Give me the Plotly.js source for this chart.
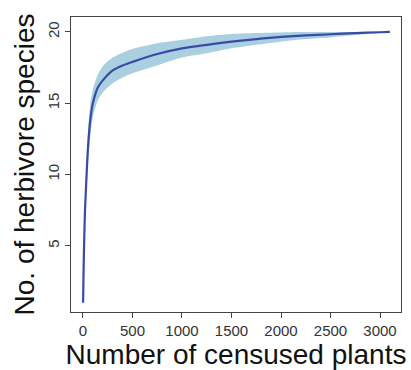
<!DOCTYPE html>
<html>
<head>
<meta charset="utf-8">
<script src="https://cdn.plot.ly/plotly-3.0.1.min.js"></script>
<style>html,body{margin:0;padding:0;background:#fff;}#chart{width:411px;height:370px;}</style>
</head>
<body>
<div id="chart"></div>
<script>
const plants = [1, 5, 10, 20, 30, 50, 75, 100, 150, 200, 300, 400, 500, 750, 1000, 1250, 1500, 1750, 2000, 2250, 2500, 2750, 3000, 3100];
const species = [1, 2.8, 4.7, 7.4, 9.0, 11.8, 13.9, 15.0, 16.1, 16.6, 17.3, 17.65, 17.9, 18.45, 18.85, 19.1, 19.32, 19.5, 19.65, 19.76, 19.84, 19.92, 19.98, 20.0];
const upperCI = [1, 3.2, 5.4, 8.3, 10.1, 13.0, 15.0, 16.0, 17.0, 17.6, 18.2, 18.55, 18.8, 19.2, 19.45, 19.7, 19.86, 19.93, 19.97, 19.99, 20.0, 20.0, 20.0, 20.0];
const lowerCI = [1, 2.4, 4.0, 6.5, 7.9, 10.6, 12.8, 14.0, 15.2, 15.75, 16.4, 16.8, 17.1, 17.65, 18.2, 18.5, 18.85, 19.1, 19.32, 19.5, 19.62, 19.78, 19.93, 20.0];
const xTicks = [0, 500, 1000, 1500, 2000, 2500, 3000];
const yTicks = [5, 10, 15, 20];

const traces = [
  {x: plants, y: lowerCI, mode: 'lines', line: {width: 0, shape: 'spline', smoothing: 0.8}, hoverinfo: 'skip', showlegend: false},
  {x: plants, y: upperCI, mode: 'lines', fill: 'tonexty', fillcolor: '#a9cfe0', line: {width: 0, shape: 'spline', smoothing: 0.8}, hoverinfo: 'skip', showlegend: false},
  {x: plants, y: species, mode: 'lines', line: {color: '#3a4ba3', width: 2.2, shape: 'spline', smoothing: 0.8}, showlegend: false}
];

const axisFont = {family: 'Liberation Sans, Arial, sans-serif', size: 15, color: '#333'};
const titleFont = {family: 'Liberation Sans, Arial, sans-serif', size: 28, color: '#111'};

const layout = {
  width: 411, height: 370,
  margin: {l: 71, r: 10, t: 17, b: 58},
  paper_bgcolor: '#fff', plot_bgcolor: '#fff',
  showlegend: false,
  xaxis: {
    range: [-121, 3212], tickvals: xTicks, ticktext: xTicks.map(String),
    showgrid: false, zeroline: false, showline: true, mirror: true, linecolor: '#444', linewidth: 1,
    ticks: 'outside', ticklen: 5, tickcolor: '#444', tickfont: axisFont,
    title: {text: 'Number of censused plants', font: titleFont, standoff: 2}
  },
  yaxis: {
    range: [0.35, 21.05], tickvals: yTicks, ticktext: yTicks.map(String),
    showgrid: false, zeroline: false, showline: true, mirror: true, linecolor: '#444', linewidth: 1,
    ticks: 'outside', ticklen: 5, tickcolor: '#444', tickfont: axisFont, tickangle: -90,
    title: {text: 'No. of herbivore species', font: titleFont, standoff: 2}
  }
};

Plotly.newPlot('chart', traces, layout, {staticPlot: true, displayModeBar: false});
</script>
</body>
</html>
